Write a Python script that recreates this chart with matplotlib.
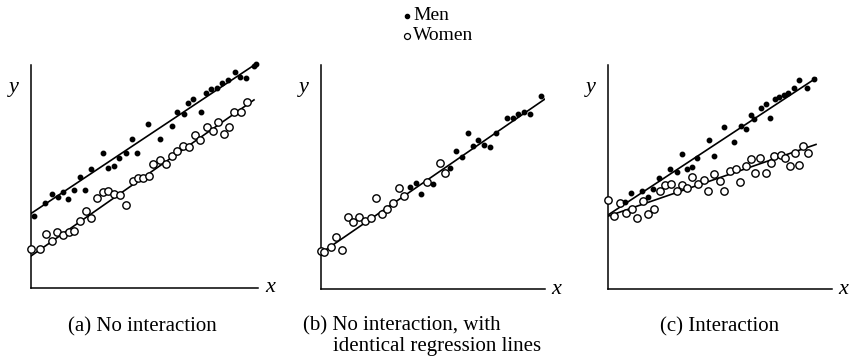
import numpy as np
import matplotlib.pyplot as plt
from matplotlib.lines import Line2D

# Values (arbitrary units, axes run 0..225 both ways)

# (a) No interaction
a_men_x = [3, 14, 20.7, 26.7, 32.3, 37.3, 43, 49, 54, 60, 71.7, 77.3, 83.3, 88.3, 95,
           100.7, 105.7, 117.3, 129, 140.7, 145.7, 153, 157.3, 162.3, 169.7, 175,
           179.7, 185.7, 190.7, 197.3, 204, 209, 215, 223.3, 225]
a_men_y = [72.3, 84.7, 94, 91.3, 96.3, 89, 98, 110.7, 98, 118.7, 134.7, 119.7, 122,
           129.7, 134.7, 148.7, 134.7, 164, 148.7, 162.3, 175.7, 173.7, 184.7, 188.7,
           175.7, 194.7, 198.7, 199.7, 204.7, 208, 216.3, 211.3, 209.7, 222, 224]
a_women_x = [0, 9, 15, 20.7, 25.7, 31.7, 38, 43.3, 49, 54.7, 60, 66.3, 71.7, 77.3, 83,
             89, 95, 101.7, 106.7, 112.3, 118.3, 122.3, 129, 135, 140.7, 145.7, 151.7,
             158.3, 164, 169, 175.7, 181.7, 186.7, 193, 198.3, 203, 209.7, 215.7]
a_women_y = [38.7, 39, 54, 47, 55.7, 53, 55.7, 57, 67.3, 77, 69.7, 90.3, 95.7, 97, 94,
             93, 83, 107, 110.3, 110.3, 112.3, 124, 128, 124, 132, 137, 142.3, 141.3,
             152.7, 148, 160.7, 157, 166.3, 153.7, 160.7, 176.3, 175.7, 185.7]
a_lines = [(74.5, 0.665, 226), (32, 0.70, 223)]  # intercept, slope, x end

# (b) No interaction, identical regression lines
b_men_x = [89, 95, 100, 112.3, 129, 135, 141.3, 146.7, 152.3, 157.3, 163.3, 169, 175,
           186.3, 192.3, 197.3, 203, 209, 220]
b_men_y = [101.7, 106.3, 95, 105, 120.7, 138, 132.3, 156.3, 143, 149, 144, 141.7,
           155.7, 171.3, 171.3, 175, 177.3, 174.7, 193]
b_women_x = [0, 3.3, 9.7, 15, 20.7, 26.7, 32.3, 38.3, 44, 50, 55, 60.7, 66.3, 71.7,
             78.3, 83.3, 106.3, 119, 124]
b_women_y = [38, 37.3, 42.3, 52.3, 39, 71.7, 66.7, 71.7, 68.3, 70.7, 90.7, 75, 80,
             85.7, 100.7, 93, 107.3, 125.7, 116.3]
b_lines = [(35.9, 0.688, 227)]

# (c) Interaction
c_men_x = [17, 23, 33.7, 40.3, 44.7, 51, 62, 68.7, 73.7, 79.3, 83.7, 89.3, 101.3, 106,
           116, 126.3, 132.7, 137.7, 142.7, 146.3, 152.7, 158, 162, 167, 171.3, 176,
           180.3, 186, 191, 198.7, 206.3]
c_men_y = [86.7, 96.3, 98, 92.3, 99.7, 111.3, 119.7, 117.3, 135, 119.7, 122.3, 130.7,
           149, 133, 162.3, 147.3, 163, 159.7, 174, 170, 180.7, 184.7, 170.7, 189.7,
           192.3, 194, 196.3, 200.7, 209, 200.7, 210]
c_women_x = [0.3, 6.3, 12, 17.7, 23.7, 28.7, 34.7, 40.3, 46, 52, 57, 62.7, 68.7, 73.7,
             79.3, 84.3, 90.3, 96, 100.3, 106, 112, 116.3, 122, 127.7, 132, 137.7,
             142.7, 147, 152, 157.7, 162.7, 166.3, 172.7, 177, 182, 187, 191, 195.3,
             199.7]
c_women_y = [89, 73.3, 85.7, 75.7, 79.7, 71.3, 88, 74.7, 79.7, 98.3, 104, 104.7, 98,
             104, 100.7, 112.3, 104.7, 109, 98, 115, 108, 98, 118, 119.7, 107.3, 123,
             129.7, 115.7, 130.7, 115.7, 125.7, 133, 134, 130.7, 123, 135.7, 124, 143,
             136.3]
c_lines = [(74, 0.658, 208), (72.8, 0.345, 208)]

panels = [
    (a_men_x, a_men_y, a_women_x, a_women_y, a_lines),
    (b_men_x, b_men_y, b_women_x, b_women_y, b_lines),
    (c_men_x, c_men_y, c_women_x, c_women_y, c_lines),
]

legend_labels = ['Men', 'Women']

plt.rcParams['font.family'] = ['Liberation Serif', 'DejaVu Serif']

W, H = 851, 360
fig = plt.figure(figsize=(W / 100, H / 100), dpi=100)

# axes boxes in pixels: left, bottom(from top), width, height
boxes = [(31, 288, 227, 223), (321, 289, 224, 224), (608, 289, 224, 224)]

for (mx, my, wx, wy, lines), (l, b, w, h) in zip(panels, boxes):
    ax = fig.add_axes([l / W, (H - b) / H, w / W, h / H])
    ax.set_xlim(0, w)
    ax.set_ylim(0, h)
    for side in ['top', 'right']:
        ax.spines[side].set_visible(False)
    for side in ['left', 'bottom']:
        ax.spines[side].set_linewidth(1.1)
    ax.set_xticks([])
    ax.set_yticks([])
    ax.patch.set_visible(False)

    for b0, slope, xend in lines:
        xs = np.array([0, xend])
        ax.plot(xs, b0 + slope * xs, color='black', lw=1.2, zorder=2)
    ax.plot(wx, wy, 'o', ms=5.3, mfc='white', mec='black', mew=1.0,
            ls='none', zorder=3, clip_on=False)
    ax.plot(mx, my, 'o', ms=3.2, color='black', ls='none', zorder=4,
            clip_on=False)

    ax.text(-0.055, 0.9, 'y', transform=ax.transAxes, fontsize=16,
            style='italic', ha='right', va='center')
    ax.text(1.03, 0.0, 'x', transform=ax.transAxes, fontsize=16,
            style='italic', ha='left', va='center')

# captions
fs = 15
fig.text(142 / W, 1 - 327 / H, '(a) No interaction', fontsize=fs,
         ha='center', va='center')
fig.text(303 / W, 1 - 326 / H, '(b) No interaction, with', fontsize=fs,
         ha='left', va='center')
fig.text(333 / W, 1 - 347 / H, 'identical regression lines', fontsize=fs,
         ha='left', va='center')
fig.text(720 / W, 1 - 327 / H, '(c) Interaction', fontsize=fs,
         ha='center', va='center')

# legend at top, drawn by hand to keep the rows tight
leg_rows = [16 / H, 36 / H]
fig.add_artist(Line2D([407 / W], [1 - leg_rows[0]], transform=fig.transFigure,
                      marker='o', ms=3, color='black', ls='none'))
fig.add_artist(Line2D([407 / W], [1 - leg_rows[1]], transform=fig.transFigure,
                      marker='o', ms=4.3, mfc='white', mec='black', mew=0.9,
                      ls='none'))
for lab, r in zip(legend_labels, leg_rows):
    fig.text(413 / W, 1 - r, lab, fontsize=14, ha='left', va='center')

fig.savefig('out.png', dpi=100)
